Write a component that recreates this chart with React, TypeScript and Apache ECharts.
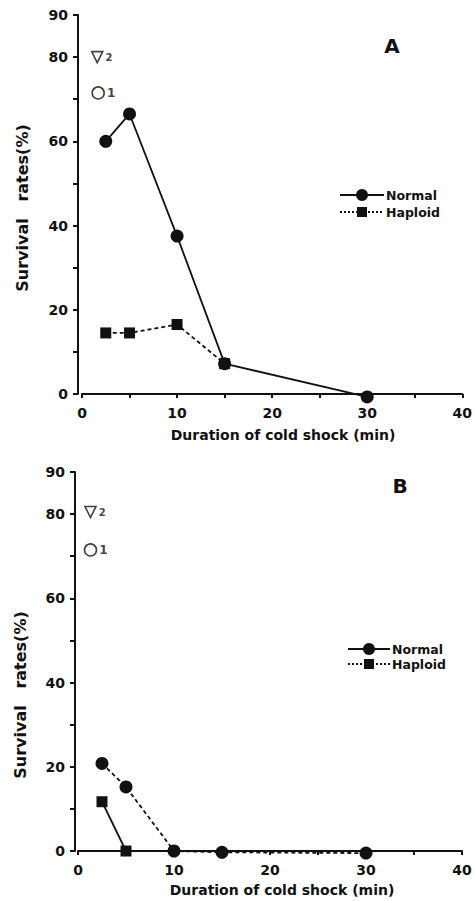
import React, { useEffect, useRef } from "react";
import * as echarts from "echarts";

// ---- data ----
const xTickLabels = [0, 10, 20, 30, 40];
const yTickLabels = [0, 20, 40, 60, 80, 90];

// Panel A
const normalA: [number, number][] = [[2.5, 60], [5, 66.5], [10, 37.5], [15, 7.2], [30, -0.7]];
const haploidA: [number, number][] = [[2.5, 14.5], [5, 14.5], [10, 16.5], [15, 7.2]];
const control2A: [number, number][] = [[1.6, 80]];
const control1A: [number, number][] = [[1.7, 71.5]];

// Panel B
const normalB: [number, number][] = [[2.5, 20.8], [5, 15.2], [10, 0], [15, -0.3], [30, -0.5]];
const haploidB: [number, number][] = [[2.5, 11.7], [5, 0]];
const control2B: [number, number][] = [[1.3, 80.5]];
const control1B: [number, number][] = [[1.3, 71.5]];

const FONT = '"DejaVu Sans", "Liberation Sans", Arial, sans-serif';
const INK = "#111";

function xAxisCfg(gridIndex: number) {
  return {
    gridIndex,
    type: "value",
    min: 0,
    max: 40,
    interval: 5,
    axisLine: { show: true, onZero: false, lineStyle: { color: INK, width: 2 } },
    axisTick: { show: true, length: 4, lineStyle: { color: INK, width: 2 } },
    splitLine: { show: false },
    axisLabel: {
      margin: 12,
      color: INK,
      fontFamily: FONT,
      fontWeight: "bold",
      fontSize: 14,
      formatter: (v: number) => (xTickLabels.includes(v) ? String(v) : ""),
    },
  };
}

function yAxisCfg(gridIndex: number, offset: number) {
  return {
    gridIndex,
    type: "value",
    min: 0,
    max: 90,
    interval: 10,
    offset,
    axisLine: { show: true, onZero: false, lineStyle: { color: INK, width: 2 } },
    axisTick: { show: true, length: 5, lineStyle: { color: INK, width: 2 } },
    splitLine: { show: false },
    axisLabel: {
      margin: 10,
      color: INK,
      fontFamily: FONT,
      fontWeight: "bold",
      fontSize: 14,
      formatter: (v: number) => (yTickLabels.includes(v) ? String(v) : ""),
    },
  };
}

function lineSeries(name: string, idx: number, data: [number, number][], symbol: string, size: number, dashed: boolean) {
  return {
    name,
    type: "line",
    xAxisIndex: idx,
    yAxisIndex: idx,
    data,
    clip: false,
    symbol,
    symbolSize: size,
    showAllSymbol: true,
    itemStyle: { color: INK },
    lineStyle: { color: INK, width: 1.8, type: dashed ? [4, 3] : "solid" },
    z: 3,
  };
}

function controlSeries(idx: number, data: [number, number][], symbol: string, label: string, size: number, rotate: number) {
  return {
    type: "scatter",
    xAxisIndex: idx,
    yAxisIndex: idx,
    data,
    symbol,
    symbolSize: size,
    symbolRotate: rotate,
    clip: false,
    itemStyle: { color: "#fff", borderColor: INK, borderWidth: 1.6 },
    label: {
      show: true,
      position: "right",
      distance: 2,
      formatter: label,
      color: INK,
      fontFamily: FONT,
      fontWeight: "bold",
      fontSize: label === "2" ? 10 : 12,
    },
  };
}

function legendGraphics(x0: number, yN: number, yH: number, gap: number) {
  const txt = (text: string, x: number, y: number) => ({
    type: "text",
    x,
    y,
    style: { text, fill: INK, font: `bold 12.5px ${FONT}`, textAlign: "left", textVerticalAlign: "middle" },
  });
  const cx = x0 + gap;
  return [
    { type: "line", shape: { x1: x0, y1: yN, x2: x0 + 2 * gap, y2: yN }, style: { stroke: INK, lineWidth: 2 } },
    { type: "circle", shape: { cx, cy: yN, r: 6 }, style: { fill: INK } },
    txt("Normal", x0 + 2 * gap + 2, yN),
    { type: "line", shape: { x1: x0, y1: yH, x2: x0 + 2 * gap, y2: yH }, style: { stroke: INK, lineWidth: 2, lineDash: [2, 2] } },
    { type: "rect", shape: { x: cx - 5, y: yH - 5, width: 10, height: 10 }, style: { fill: INK } },
    txt("Haploid", x0 + 2 * gap + 2, yH),
  ];
}

function titleText(text: string, x: number, y: number, size: number, rotate = 0) {
  return {
    type: "text",
    x,
    y,
    rotation: rotate,
    style: { text, fill: INK, font: `bold ${size}px ${FONT}`, textAlign: "center", textVerticalAlign: "middle" },
  };
}

export default function App() {
  const ref = useRef<HTMLDivElement>(null);
  useEffect(() => {
    if (!ref.current) return;
    const chart = echarts.init(ref.current, undefined, { renderer: "svg" });
    chart.setOption({
      animation: false,
      backgroundColor: "#fff",
      grid: [
        { left: 82, top: 15, width: 382, height: 379 },
        { left: 78, top: 472, width: 384, height: 379 },
      ],
      xAxis: [xAxisCfg(0), xAxisCfg(1)],
      yAxis: [yAxisCfg(0, 4), yAxisCfg(1, 3)],
      series: [
        lineSeries("Normal", 0, normalA, "circle", 13, false),
        lineSeries("Haploid", 0, haploidA, "rect", 11, true),
        controlSeries(0, control2A, "triangle", "2", 11, 180),
        controlSeries(0, control1A, "circle", "1", 12, 0),
        lineSeries("Normal", 1, normalB, "circle", 13, true),
        lineSeries("Haploid", 1, haploidB, "rect", 11, false),
        controlSeries(1, control2B, "triangle", "2", 11, 180),
        controlSeries(1, control1B, "circle", "1", 12, 0),
      ],
      graphic: [
        titleText("A", 392, 46, 20),
        titleText("B", 400, 486, 20),
        titleText("Duration of cold shock (min)", 283, 435, 14),
        titleText("Duration of cold shock (min)", 282, 890, 14),
        titleText("Survival   rates(%)", 22, 208, 16, Math.PI / 2),
        titleText("Survival   rates(%)", 20, 695, 16, Math.PI / 2),
        ...legendGraphics(340, 195, 212, 22),
        ...legendGraphics(348, 649, 664, 21),
      ],
    });
    return () => chart.dispose();
  }, []);
  return <div ref={ref} style={{ position: "absolute", left: 0, top: 0, width: 475, height: 901 }} />;
}
